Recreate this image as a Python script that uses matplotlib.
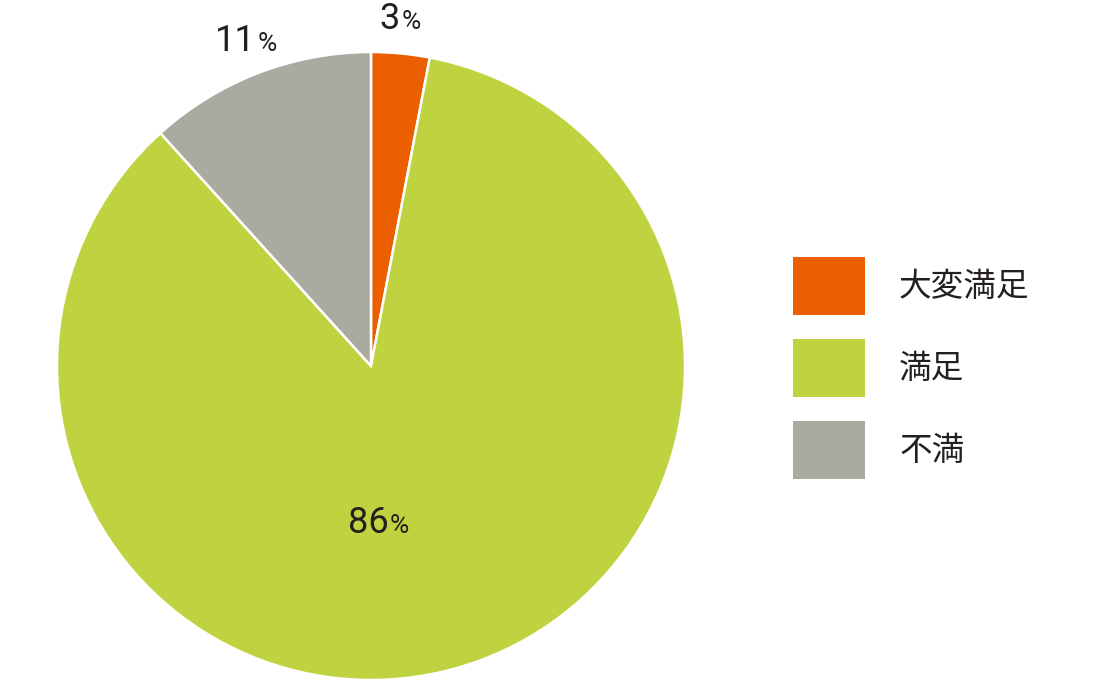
import matplotlib
matplotlib.use("Agg")
import matplotlib.pyplot as plt
import numpy as np
from matplotlib.patches import Patch
from matplotlib.offsetbox import TextArea, HPacker, AnnotationBbox

# data
categories = ["大変満足", "満足", "不満"]
shares = [3.0, 85.3, 11.7]          # slice sizes as drawn
label_pcts = ["3", "86", "11"]      # percentages printed on the chart
colors = ["#EB5F00", "#BFD23F", "#ABAAA0"]

fig = plt.figure(figsize=(11, 7), dpi=100)
ax = fig.add_axes([57 / 1100, 20 / 700, 628 / 1100, 628 / 700])

wedges, _ = ax.pie(shares, colors=colors, startangle=90, counterclock=False,
                   radius=1, wedgeprops=dict(edgecolor="white", linewidth=1.8))
ax.set_xlim(-1, 1)
ax.set_ylim(-1, 1)
ax.set_aspect("equal")
ax.axis("off")

num_font = "Roboto"
txt_color = "#231F20"

# label placement: (radius, angle offset in degrees relative to wedge middle)
placements = [(1.11, 0.6), (0.50, -13.0), (1.11, 0.0)]
for w, pct, (r, doff) in zip(wedges, label_pcts, placements):
    mid = np.deg2rad((w.theta1 + w.theta2) / 2 + doff)
    x, y = r * np.cos(mid), r * np.sin(mid)
    box = HPacker(children=[
        TextArea(pct, textprops=dict(fontsize=26, family=num_font, color=txt_color)),
        TextArea("%", textprops=dict(fontsize=19, family=num_font, color=txt_color)),
    ], align="baseline", pad=0, sep=1)
    ab = AnnotationBbox(box, (x, y), frameon=False, box_alignment=(0.5, 0.5),
                        pad=0, annotation_clip=False)
    ax.add_artist(ab)

handles = [Patch(facecolor=c, edgecolor="none") for c in colors]
leg = fig.legend(handles, categories, loc="upper left",
                 bbox_to_anchor=(793 / 1100, 1 - 257 / 700),
                 frameon=False, borderpad=0, borderaxespad=0,
                 handlelength=2.2, handleheight=2.37, handletextpad=1.05,
                 labelspacing=0.72,
                 prop=dict(family=["Noto Sans CJK JP", "DejaVu Sans"], size=23.5))
for t in leg.get_texts():
    t.set_color(txt_color)

fig.savefig("out.png", dpi=100)
